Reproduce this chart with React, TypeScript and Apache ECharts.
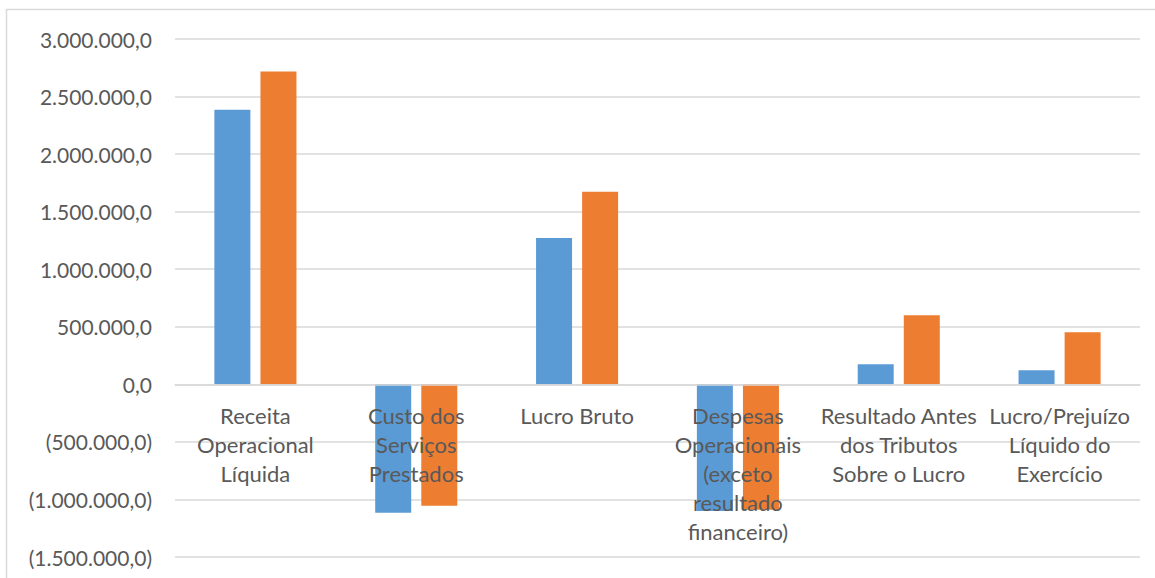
import React, { useEffect, useRef } from "react";
import * as echarts from "echarts";

const categories = [
  "Receita\nOperacional\nLíquida",
  "Custo dos\nServiços\nPrestados",
  "Lucro Bruto",
  "Despesas\nOperacionais\n(exceto\nresultado\nfinanceiro)",
  "Resultado Antes\ndos Tributos\nSobre o Lucro",
  "Lucro/Prejuízo\nLíquido do\nExercício",
];
const seriesA = [2385000, -1115000, 1272000, -1100000, 174000, 122000];
const seriesB = [2717000, -1054000, 1672000, -1090000, 601000, 453000];
const yMin = -1500000;
const yMax = 3000000;
const yStep = 500000;

function fmt(v: number): string {
  const abs = Math.abs(v);
  const int = Math.floor(abs).toString().replace(/\B(?=(\d{3})+(?!\d))/g, ".");
  const s = int + ",0";
  return v < 0 ? "(" + s + ")" : s;
}

export default function App() {
  const ref = useRef<HTMLDivElement>(null);
  useEffect(() => {
    if (!ref.current) return;
    const chart = echarts.init(ref.current, undefined, { renderer: "svg" });
    const font = "Lato, 'Open Sans', sans-serif";
    const gridTop = 39;
    const gridBottom = 21;
    const plotH = 578 - gridTop - gridBottom;
    // distance from the bottom of the plot to the zero line, from the axis range
    const zeroOffset = (plotH * (0 - yMin)) / (yMax - yMin);
    chart.setOption({
      animation: false,
      textStyle: { fontFamily: font },
      graphic: [
        {
          type: "rect",
          shape: { x: 6.5, y: 9.5, width: 1160, height: 600 },
          style: { fill: "none", stroke: "#d9d9d9", lineWidth: 1.5 },
          silent: true,
        },
      ],
      grid: { left: 175, right: 15, top: gridTop, bottom: gridBottom, containLabel: false, outerBoundsMode: "none" },
      xAxis: {
        type: "category",
        data: categories,
        offset: -zeroOffset,
        axisLine: { show: true, onZero: false, lineStyle: { color: "#d9d9d9", width: 1.5 } },
        axisTick: { show: false },
        axisLabel: {
          color: "#595959",
          fontSize: 22,
          fontFamily: font,
          lineHeight: 29,
          margin: 17,
          interval: 0,
          align: "center",
          verticalAlign: "top",
        },
        z: 1,
      },
      yAxis: {
        type: "value",
        min: yMin,
        max: yMax,
        interval: yStep,
        axisLine: { show: false },
        axisTick: { show: false },
        splitLine: { lineStyle: { color: "#d9d9d9", width: 1.5 } },
        axisLabel: {
          color: "#595959",
          fontSize: 21,
          fontFamily: font,
          margin: 23,
          formatter: (v: number) => fmt(v),
        },
      },
      series: [
        {
          name: "A",
          type: "bar",
          data: seriesA,
          barWidth: 36,
          barGap: "28%",
          itemStyle: { color: "#5B9BD5" },
          z: 0,
        },
        {
          name: "B",
          type: "bar",
          data: seriesB,
          barWidth: 36,
          itemStyle: { color: "#ED7D31" },
          z: 0,
        },
      ],
    });
    return () => chart.dispose();
  }, []);
  return <div ref={ref} style={{ width: 1155, height: 578, position: "absolute", left: 0, top: 0 }} />;
}
